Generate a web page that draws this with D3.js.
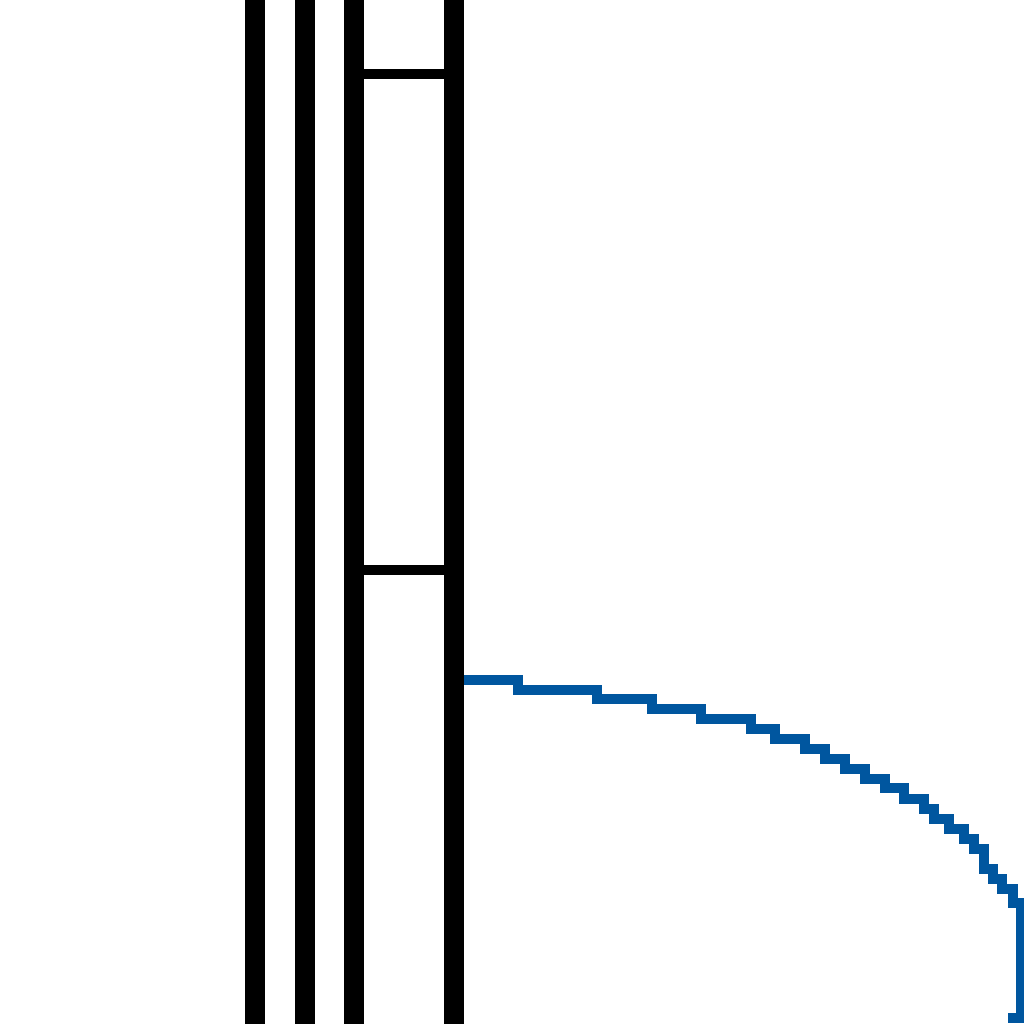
<!DOCTYPE html>
<html>
<head>
<meta charset="utf-8">
<script src="https://cdn.jsdelivr.net/npm/d3@7"></script>
<style>
  html, body { margin: 0; padding: 0; background: #ffffff; }
  svg { display: block; }
</style>
</head>
<body>
<div id="chart"></div>
<script>
// ---- data (chart units, 0..100 on both axes) ----
const verticalLineX = [24.9, 29.8, 34.6, 44.3];
const capFromX = 34.6;
const capToX = 44.3;
const capY = [92.8, 44.3];
const curveX = [45.2, 50.6, 58.3, 63.7, 68.5, 73.3, 75.7, 78.6, 80.6, 82.5, 84.5, 86.4,
                88.3, 90.2, 91.2, 92.7, 94.1, 95.1, 96.1, 97.0, 97.9, 98.9, 99.7, 98.9];
const curveY = [33.6, 32.6, 31.7, 30.8, 29.8, 28.8, 27.8, 26.9, 25.9, 24.9, 23.9, 23.0,
                22.0, 21.0, 20.0, 19.0, 18.1, 17.1, 15.1, 14.2, 13.2, 11.8, 0.6, 0.6];

const W = 1024, H = 1024;
const x = d3.scaleLinear().domain([0, 100]).range([0, W]);
const y = d3.scaleLinear().domain([0, 100]).range([H, 0]);

const svg = d3.select("#chart").append("svg")
  .attr("width", W).attr("height", H)
  .attr("shape-rendering", "crispEdges");

// blue stepped curve
const pts = curveX.map((v, i) => [v, curveY[i]]);
svg.append("path")
  .datum(pts)
  .attr("fill", "none")
  .attr("stroke", "#00569f")
  .attr("stroke-width", 10)
  .attr("stroke-linecap", "square")
  .attr("stroke-linejoin", "miter")
  .attr("d", d3.line().x(d => x(d[0])).y(d => y(d[1])).curve(d3.curveStepAfter));

// horizontal caps
svg.selectAll("line.cap").data(capY).join("line")
  .attr("class", "cap")
  .attr("x1", x(capFromX)).attr("x2", x(capToX))
  .attr("y1", d => y(d)).attr("y2", d => y(d))
  .attr("stroke", "#000").attr("stroke-width", 10);

// vertical black lines
svg.selectAll("line.vl").data(verticalLineX).join("line")
  .attr("class", "vl")
  .attr("x1", d => x(d)).attr("x2", d => x(d))
  .attr("y1", y(100)).attr("y2", y(0))
  .attr("stroke", "#000").attr("stroke-width", 20);
</script>
</body>
</html>
